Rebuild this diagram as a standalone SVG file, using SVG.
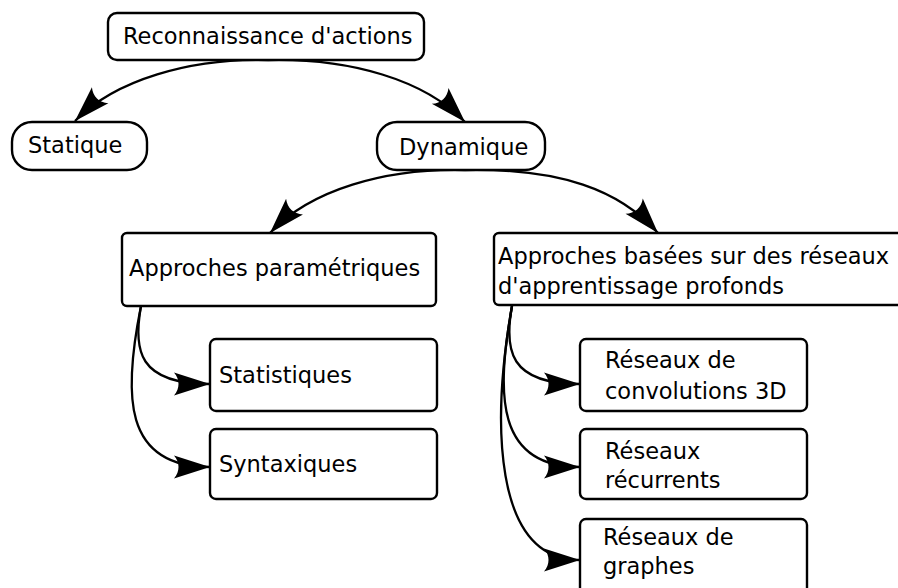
<svg xmlns="http://www.w3.org/2000/svg" width="898" height="588" viewBox="0 0 898 588">
<defs>
<style>
.box{fill:#fff;stroke:#000;stroke-width:2.4}
.t{font-family:"DejaVu Sans","Liberation Sans",sans-serif;font-size:22.5px;fill:#000}
.c{fill:none;stroke:#000;stroke-width:2.3;marker-end:url(#ah)}
</style>
<marker id="ah" markerUnits="userSpaceOnUse" viewBox="-38 -14 40 28" refX="0" refY="0" markerWidth="40" markerHeight="28" orient="auto">
<path d="M0,0 L-36,-11.5 C-30,-4.5 -30,4.5 -36,11.5 Z" fill="#000"/>
</marker>
</defs>
<rect width="898" height="588" fill="#fff"/>
<g id="connectors">
<path class="c" d="M268,60 C190,58 115,80 75,121"/>
<path class="c" d="M268,60 C350,58 425,80 465,122"/>
<path class="c" d="M465,170 C385,168 310,190 270,233"/>
<path class="c" d="M465,170 C560,168 620,190 658,233"/>
<path class="c" d="M141,306 C133,350 138,384 210,384"/>
<path class="c" d="M141,306 C123,395 123,467 210,467"/>
<path class="c" d="M512,306 C504,350 509,384 580,384"/>
<path class="c" d="M512,306 C496,395 496,467 580,467"/>
<path class="c" d="M512,306 C492,420 492,560 580,560"/>
</g>
<g id="n-reconnaissance">
<rect class="box" x="108" y="13" width="316" height="47" rx="9"/>
<text class="t" x="123" y="44">Reconnaissance d'actions</text>
</g>
<g id="n-statique">
<rect class="box" x="12" y="122" width="135" height="48" rx="20"/>
<text class="t" x="28" y="153">Statique</text>
</g>
<g id="n-dynamique">
<rect class="box" x="377" y="122" width="168" height="48" rx="20"/>
<text class="t" x="399" y="155">Dynamique</text>
</g>
<g id="n-parametriques">
<rect class="box" x="122" y="233" width="314" height="73" rx="5"/>
<text class="t" x="129" y="276">Approches paramétriques</text>
</g>
<g id="n-profonds">
<rect class="box" x="494" y="233" width="420" height="72" rx="5"/>
<text class="t" x="498" y="264">Approches basées sur des réseaux</text>
<text class="t" x="498" y="294">d'apprentissage profonds</text>
</g>
<g id="n-statistiques">
<rect class="box" x="210" y="339" width="227" height="72" rx="6"/>
<text class="t" x="219" y="383">Statistiques</text>
</g>
<g id="n-syntaxiques">
<rect class="box" x="210" y="429" width="227" height="70" rx="6"/>
<text class="t" x="219" y="472">Syntaxiques</text>
</g>
<g id="n-convolutions">
<rect class="box" x="580" y="339" width="227" height="72" rx="6"/>
<text class="t" x="605" y="368">Réseaux de</text>
<text class="t" x="605" y="399">convolutions 3D</text>
</g>
<g id="n-recurrents">
<rect class="box" x="580" y="429" width="227" height="70" rx="6"/>
<text class="t" x="605" y="459">Réseaux</text>
<text class="t" x="605" y="488">récurrents</text>
</g>
<g id="n-graphes">
<rect class="box" x="580" y="519" width="227" height="80" rx="6"/>
<text class="t" x="603" y="545">Réseaux de</text>
<text class="t" x="603" y="574">graphes</text>
</g>
</svg>
